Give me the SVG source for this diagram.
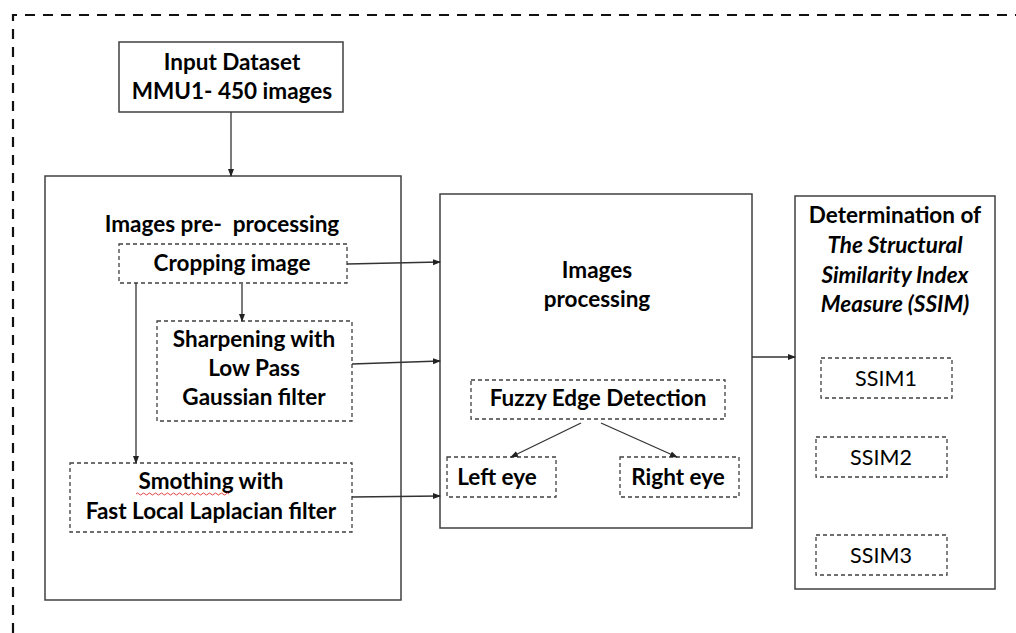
<svg xmlns="http://www.w3.org/2000/svg" width="1016" height="633" viewBox="0 0 1016 633">
<style>
.box{fill:#fff;stroke:#404040;stroke-width:1.5}
.dbox{fill:#fff;stroke:#404040;stroke-width:1.3;stroke-dasharray:4 3}
.t{font-family:Lato,"Liberation Sans",sans-serif;font-weight:bold;font-size:22.5px;fill:#000;text-anchor:middle}
.bi{font-style:italic}
.r{font-weight:normal;font-size:21.5px}
.c{stroke:#333;stroke-width:1.3;fill:none;marker-end:url(#ah)}
</style>
<defs>
<marker id="ah" markerWidth="8" markerHeight="8" refX="7" refY="4" orient="auto" markerUnits="userSpaceOnUse">
<path d="M0,1 L8,4 L0,7 Z" fill="#222"/>
</marker>
</defs>
<rect width="1016" height="633" fill="#fff"/>
<path d="M13,633 V15 H1016" fill="none" stroke="#111" stroke-width="2.2" stroke-dasharray="10 8"/>

<g id="input">
<rect class="box" x="119" y="42" width="224" height="70"/>
<text class="t" x="232" y="70">Input Dataset</text>
<text class="t" x="232" y="99">MMU1- 450 images</text>
</g>

<g id="preprocessing">
<rect class="box" x="45" y="176" width="356" height="424"/>
<text class="t" x="222" y="232" style="white-space:pre">Images pre-  processing</text>
</g>

<g id="cropping">
<rect class="dbox" x="119" y="244" width="228" height="39"/>
<text class="t" x="232" y="271">Cropping image</text>
</g>

<g id="sharpening">
<rect class="dbox" x="157" y="321" width="195" height="100"/>
<text class="t" x="254" y="347">Sharpening with</text>
<text class="t" x="254" y="376">Low Pass</text>
<text class="t" x="254" y="405">Gaussian filter</text>
</g>

<g id="smoothing">
<rect class="dbox" x="70" y="463" width="282" height="69"/>
<text class="t" x="211" y="489">Smothing with</text>
<path d="M136,494 q1.5,-2 3,0 t3,0 t3,0 t3,0 t3,0 t3,0 t3,0 t3,0 t3,0 t3,0 t3,0 t3,0 t3,0 t3,0 t3,0 t3,0 t3,0 t3,0 t3,0 t3,0 t3,0 t3,0 t3,0 t3,0 t3,0 t3,0 t3,0 t3,0 t3,0 t3,0 t3,0" fill="none" stroke="#e03030" stroke-width="0.9"/>
<text class="t" x="211" y="519">Fast Local Laplacian filter</text>
</g>

<g id="processing">
<rect class="box" x="440" y="194" width="312" height="334"/>
<text class="t" x="597" y="278">Images</text>
<text class="t" x="597" y="307">processing</text>
</g>

<g id="fuzzy">
<rect class="dbox" x="471" y="380" width="254" height="39"/>
<text class="t" x="598" y="406">Fuzzy Edge Detection</text>
</g>

<g id="lefteye">
<rect class="dbox" x="447" y="457" width="109" height="40"/>
<text class="t" x="497" y="485">Left eye</text>
</g>

<g id="righteye">
<rect class="dbox" x="620" y="457" width="119" height="40"/>
<text class="t" x="678" y="485">Right eye</text>
</g>

<g id="ssim">
<rect class="box" x="795" y="196" width="200" height="393"/>
<text class="t" x="895" y="223">Determination of</text>
<text class="t bi" x="895" y="253">The Structural</text>
<text class="t bi" x="895" y="283">Similarity Index</text>
<text class="t bi" x="895" y="312">Measure (SSIM)</text>
</g>

<g id="ssim1">
<rect class="dbox" x="821" y="358" width="131" height="40"/>
<text class="t r" x="886" y="386">SSIM1</text>
</g>
<g id="ssim2">
<rect class="dbox" x="816" y="437" width="131" height="40"/>
<text class="t r" x="881" y="465">SSIM2</text>
</g>
<g id="ssim3">
<rect class="dbox" x="816" y="535" width="131" height="40"/>
<text class="t r" x="881" y="563">SSIM3</text>
</g>

<g id="connectors">
<line class="c" x1="231" y1="112" x2="231" y2="176"/>
<line class="c" x1="242" y1="284" x2="242" y2="321"/>
<line class="c" x1="136" y1="283" x2="136" y2="463"/>
<line class="c" x1="347" y1="264" x2="440" y2="262"/>
<line class="c" x1="352" y1="364" x2="440" y2="361"/>
<line class="c" x1="352" y1="497" x2="440" y2="496"/>
<line class="c" x1="581" y1="423" x2="511" y2="457"/>
<line class="c" x1="601" y1="423" x2="677" y2="457"/>
<line class="c" x1="752" y1="357" x2="795" y2="357"/>
</g>
</svg>
